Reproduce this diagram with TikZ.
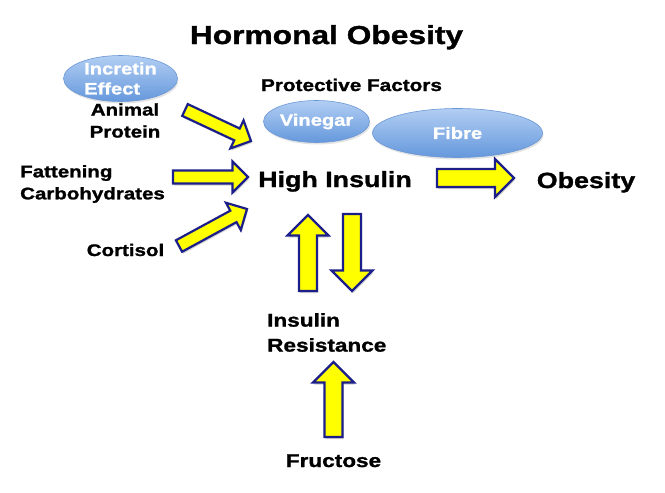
\documentclass[tikz,border=0pt]{standalone}
\usepackage{fontspec}
\newfontfamily\lab{Liberation Sans}[FakeStretch=1.22,BoldFeatures={FakeBold=1.3}]
\usetikzlibrary{shapes.geometric,shadows,calc}
\definecolor{navyline}{HTML}{1C1F8A}
\definecolor{arrowyellow}{HTML}{FFFF00}
\definecolor{elltop}{HTML}{B2CEF3}
\definecolor{ellbot}{HTML}{6598DC}
\definecolor{elledge}{HTML}{6A97D6}
% #1 name, #2 tail, #3 tip, #4 shaft half width, #5 head half width
\newcommand\blockarr[5]{%
  \coordinate (#1-tail) at #2;
  \coordinate (#1-tip) at #3;
  \coordinate (#1-base) at ($(#1-tip)!#5!(#1-tail)$);
  \draw[blockarrow] ($(#1-tail)!#4!90:(#1-tip)$) -- ($(#1-base)!#4!90:(#1-tip)$)
    -- ($(#1-base)!#5!90:(#1-tip)$) -- (#1-tip) -- ($(#1-base)!#5!-90:(#1-tip)$)
    -- ($(#1-base)!#4!-90:(#1-tip)$) -- ($(#1-tail)!#4!-90:(#1-tip)$) -- cycle;
}
\begin{document}
\begin{tikzpicture}[x=1pt,y=-1pt,
  lbl/.style={font=\lab\bfseries\fontsize{16.8}{22}\selectfont, text=black, inner sep=0pt},
  bigl/.style={font=\lab\bfseries\fontsize{22}{26}\selectfont, text=black, inner sep=0pt},
  midl/.style={font=\lab\bfseries\fontsize{18.5}{25}\selectfont, text=black, inner sep=0pt},
  bubble/.style={ellipse, inner sep=0pt, top color=elltop, bottom color=ellbot, draw=elledge, line width=0.6pt,
    text=white, font=\lab\bfseries\fontsize{16.5}{20}\selectfont,
    drop shadow={opacity=0.22, shadow xshift=1pt, shadow yshift=-2pt}},
  blockarrow/.style={draw=navyline, fill=arrowyellow, line width=2.2pt, line join=miter,
    preaction={fill=black, opacity=0.18, transform canvas={shift={(1pt,-2pt)}}}}
]
\fill[white] (0,0) rectangle (665,493);
\useasboundingbox (0,0) rectangle (665,493);

% title
\node[font=\lab\bfseries\fontsize{26}{30}\selectfont, inner sep=0pt, anchor=base] (title) at (326.5,44) {Hormonal Obesity};

% bubbles
\node[bubble, minimum width=114pt, minimum height=46pt, align=left] (incretin) at (120.5,78.5) {Incretin\\Effect};
\node[bubble, minimum width=106pt, minimum height=42pt] (vinegar) at (316.5,121.5) {Vinegar};
\node[bubble, minimum width=170pt, minimum height=49pt] (fibre) at (457.5,133) {Fibre};

% labels
\node[lbl, align=center] (animal) at (125,120.5) {Animal\\Protein};
\node[font=\lab\bfseries\fontsize{17}{22}\selectfont, inner sep=0pt, anchor=base] (protect) at (351.5,91) {Protective Factors};
\node[lbl, align=left, anchor=west] (fatten) at (20,184) {Fattening\\Carbohydrates};
\node[lbl, anchor=base] (cortisol) at (125.5,256) {Cortisol};
\node[bigl, anchor=base] (insulin) at (335,187) {High Insulin};
\node[bigl, anchor=base] (obesity) at (586,188) {Obesity};
\node[midl, align=left, anchor=west] (resist) at (267,332.5) {Insulin\\Resistance};
\node[midl, anchor=base] (fructose) at (333.5,467) {Fructose};

% block arrows
\blockarr{aanimal}{(185,110)}{(251,141)}{6.5pt}{15.5pt}
\blockarr{afat}{(173,177)}{(248,177)}{6.5pt}{15.5pt}
\blockarr{acort}{(179,246)}{(247,209)}{6.5pt}{15.5pt}
\blockarr{aobes}{(437,178)}{(514,178)}{9pt}{19pt}
\blockarr{aup}{(308,291)}{(308,215)}{9pt}{20.5pt}
\blockarr{adown}{(352,214)}{(352,291)}{9pt}{20.5pt}
\blockarr{afruc}{(333.5,437)}{(333.5,362)}{9pt}{20.5pt}
\end{tikzpicture}
\end{document}
